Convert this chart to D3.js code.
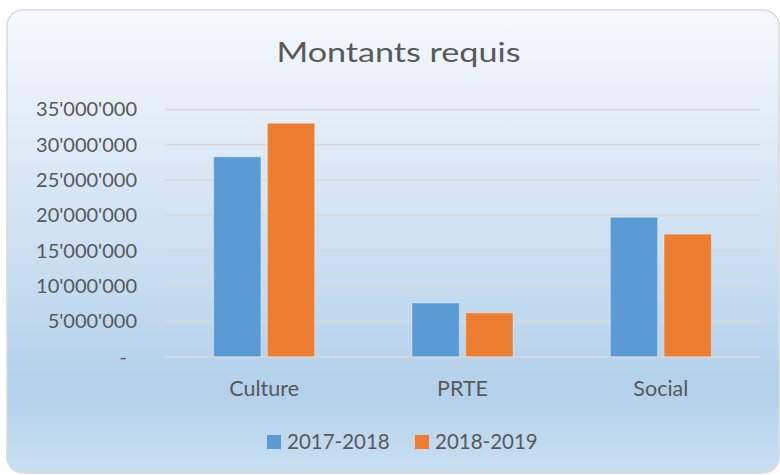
<!DOCTYPE html>
<html>
<head>
<meta charset="utf-8">
<script src="https://cdn.jsdelivr.net/npm/d3@7"></script>
<style>
  body { margin: 0; background: #fff; }
  text { font-family: Lato, "Open Sans", sans-serif; fill: #595959; }
</style>
</head>
<body>
<div id="chart"></div>
<script>
// data
const categories = ["Culture", "PRTE", "Social"];
const seriesNames = ["2017-2018", "2018-2019"];
const values2017 = [28300000, 7600000, 19750000];
const values2018 = [33050000, 6200000, 17350000];
const yTicks = [0, 5000000, 10000000, 15000000, 20000000, 25000000, 30000000, 35000000];
const colors = ["#5b9bd5", "#ed7d31"];

const W = 780, H = 475;
const margin = {top: 109.5, right: 20, bottom: 118.3, left: 165};
const width = W - margin.left - margin.right;
const height = H - margin.top - margin.bottom;

const svg = d3.select("#chart").append("svg")
    .attr("width", W)
    .attr("height", H);

// background gradient
const defs = svg.append("defs");
const grad = defs.append("linearGradient")
    .attr("id", "bg")
    .attr("x1", 0).attr("y1", 0).attr("x2", 0).attr("y2", 1);
grad.append("stop").attr("offset", "0%").attr("stop-color", "#f6f9fd");
grad.append("stop").attr("offset", "82%").attr("stop-color", "#b3d1eb");
grad.append("stop").attr("offset", "100%").attr("stop-color", "#c9dff2");

svg.append("rect")
    .attr("x", 7).attr("y", 10)
    .attr("width", 772).attr("height", 463)
    .attr("rx", 16).attr("ry", 16)
    .attr("fill", "url(#bg)")
    .attr("stroke", "#d9d9d9")
    .attr("stroke-width", 1.5);

const g = svg.append("g")
    .attr("transform", `translate(${margin.left},${margin.top})`);

// scales
const x0 = d3.scaleBand()
    .domain(categories)
    .range([0, width]);

const step = x0.step();
const groupW = 101;

const x1 = d3.scaleBand()
    .domain(seriesNames)
    .range([0, groupW])
    .paddingInner(0.12);

const y = d3.scaleLinear()
    .domain([0, 35000000])
    .range([height, 0]);

// gridlines
g.append("g")
    .selectAll("line")
    .data(yTicks)
    .join("line")
    .attr("x1", 0)
    .attr("x2", width)
    .attr("y1", d => y(d))
    .attr("y2", d => y(d))
    .attr("stroke", "#d9d9d9")
    .attr("stroke-width", 1.5);

// y axis labels
const fmt = d => d === 0 ? "-" : d3.format(",")(d).replace(/,/g, "'");
const yAxis = d3.axisLeft(y)
    .tickValues(yTicks)
    .tickFormat(fmt)
    .tickSize(0)
    .tickPadding(28);
const ya = g.append("g").call(yAxis);
ya.select(".domain").remove();
ya.selectAll("text")
    .attr("font-size", 20)
    .style("font-family", "Lato, 'Open Sans', sans-serif")
    .attr("fill", "#595959")
    .attr("dx", d => d === 0 ? -10 : 0);

// bars
const rows = categories.map((c, i) => ({cat: c, vals: [values2017[i], values2018[i]]}));
const groups = g.selectAll(".grp")
    .data(rows)
    .join("g")
    .attr("class", "grp")
    .attr("transform", d => `translate(${x0(d.cat) + (step - groupW) / 2},0)`);

groups.selectAll("rect")
    .data(d => d.vals.map((v, i) => ({key: seriesNames[i], v: v, i: i})))
    .join("rect")
    .attr("x", d => x1(d.key))
    .attr("y", d => y(d.v))
    .attr("width", x1.bandwidth())
    .attr("height", d => height - y(d.v))
    .attr("fill", d => colors[d.i])
    .attr("stroke", "rgba(255,255,255,0.35)")
    .attr("stroke-width", 1);

// category labels
const xAxis = d3.axisBottom(x0).tickSize(0).tickPadding(24);
const xa = g.append("g")
    .attr("transform", `translate(0,${height})`)
    .call(xAxis);
xa.select(".domain").remove();
xa.selectAll("text")
    .attr("font-size", 21.5)
    .style("font-family", "Lato, 'Open Sans', sans-serif")
    .attr("fill", "#595959");

// title
svg.append("text")
    .attr("x", 398.5)
    .attr("y", 62)
    .attr("text-anchor", "middle")
    .attr("font-size", 26)
    .attr("textLength", 244)
    .attr("lengthAdjust", "spacingAndGlyphs")
    .text("Montants requis");

// legend
const legend = svg.append("g").attr("transform", "translate(267,435)");
const legX = [0, 148];
const items = legend.selectAll("g")
    .data(seriesNames)
    .join("g")
    .attr("transform", (d, i) => `translate(${legX[i]},0)`);
items.append("rect")
    .attr("width", 14).attr("height", 14)
    .attr("fill", (d, i) => colors[i]);
items.append("text")
    .attr("x", 20)
    .attr("y", 14)
    .attr("font-size", 20.5)
    .text(d => d);
</script>
</body>
</html>
